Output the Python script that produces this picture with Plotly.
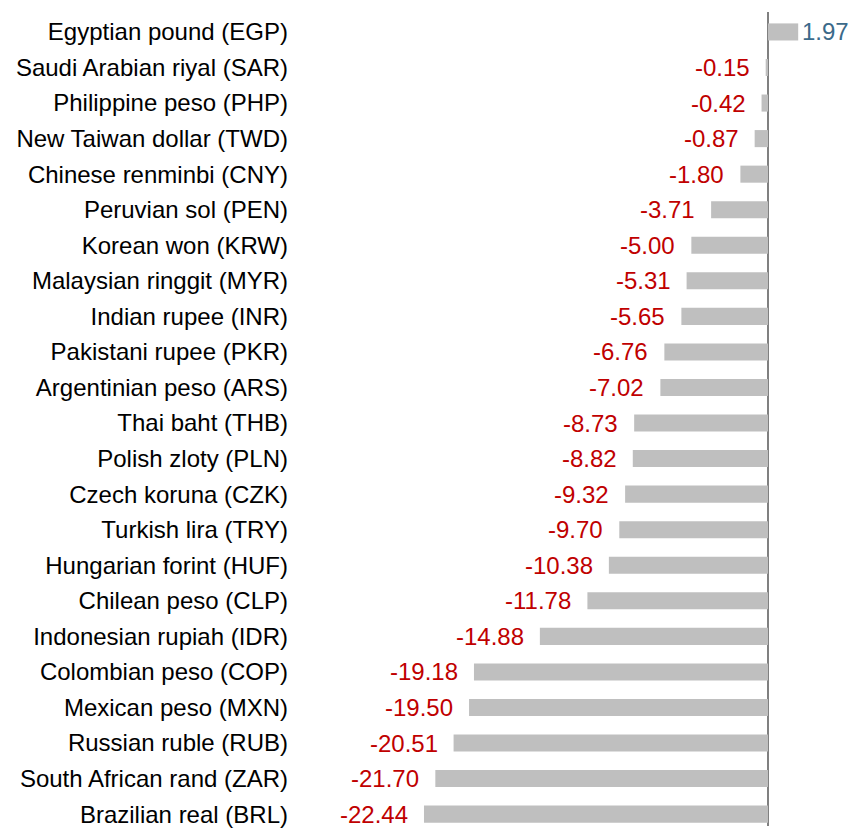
import plotly.graph_objects as go

currencies = [
    "Egyptian pound (EGP)", "Saudi Arabian riyal (SAR)", "Philippine peso (PHP)",
    "New Taiwan dollar (TWD)", "Chinese renminbi (CNY)", "Peruvian sol (PEN)",
    "Korean won (KRW)", "Malaysian ringgit (MYR)", "Indian rupee (INR)",
    "Pakistani rupee (PKR)", "Argentinian peso (ARS)", "Thai baht (THB)",
    "Polish zloty (PLN)", "Czech koruna (CZK)", "Turkish lira (TRY)",
    "Hungarian forint (HUF)", "Chilean peso (CLP)", "Indonesian rupiah (IDR)",
    "Colombian peso (COP)", "Mexican peso (MXN)", "Russian ruble (RUB)",
    "South African rand (ZAR)", "Brazilian real (BRL)",
]
changes = [1.97, -0.15, -0.42, -0.87, -1.80, -3.71, -5.00, -5.31, -5.65, -6.76,
           -7.02, -8.73, -8.82, -9.32, -9.70, -10.38, -11.78, -14.88, -19.18,
           -19.50, -20.51, -21.70, -22.44]

FONT = "Liberation Sans, Arial, Helvetica, sans-serif"
RED = "#C00000"
BLUE = "#3B6A8A"
FS = 24

fig = go.Figure()
fig.add_trace(go.Bar(
    x=changes, y=currencies, orientation="h",
    marker=dict(color="#BFBFBF", line=dict(width=0)),
    width=0.48, hoverinfo="x+y",
))

for c, v in zip(currencies, changes):
    neg = v < 0
    fig.add_annotation(
        x=v, y=c, text=f"{v:.2f}", showarrow=False,
        xanchor="right" if neg else "left",
        xshift=-14 if neg else 2,
        font=dict(family=FONT, size=FS, color=RED if neg else BLUE),
    )

fig.update_layout(
    width=852, height=828,
    margin=dict(l=292, r=0, t=12, b=0),
    plot_bgcolor="white", paper_bgcolor="white",
    showlegend=False,
    font=dict(family=FONT, size=FS, color="black"),
    xaxis=dict(range=[-31.05, 5.48], showgrid=False, showticklabels=False,
               ticks="", zeroline=True, zerolinecolor="#808080", zerolinewidth=2,
               fixedrange=True),
    yaxis=dict(type="category", categoryorder="array", categoryarray=currencies,
               range=[22.334, -0.561], showgrid=False, ticks="", zeroline=False,
               tickfont=dict(family=FONT, size=FS, color="black"),
               ticklabelstandoff=3, fixedrange=True),
)

fig.write_html(
    "out.html",
    config={"displayModeBar": False},
    post_script="document.body.style.margin='0';document.body.style.overflow='hidden';",
)
